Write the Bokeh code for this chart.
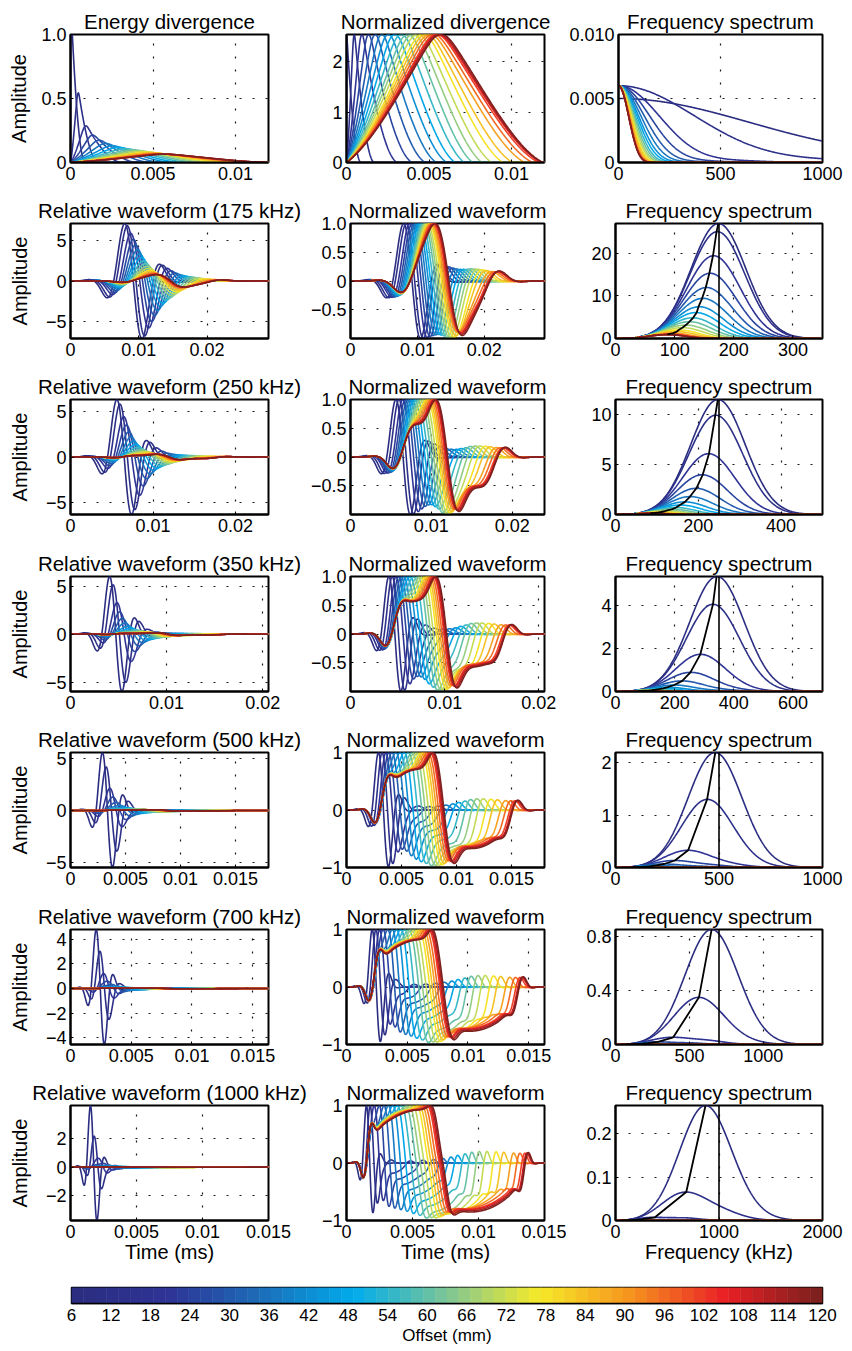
import numpy as np
from bokeh.plotting import figure
from bokeh.layouts import column, row
from bokeh.models import FixedTicker, Range1d, Span
from bokeh.embed import file_html
from bokeh.resources import INLINE

# ---------------------------------------------------------------- data
offsets_mm = [6, 12, 18, 24, 30, 36, 42, 48, 54, 60, 66, 72, 78, 84, 90, 96, 102, 108, 114, 120]

# energy divergence curves (row 1):
# time of the peak (ms) and temporal spread (std, ms) of every offset's curve
div_peak_time = [0.00002, 0.00045, 0.0009, 0.0013, 0.0017, 0.0021, 0.0025, 0.0029, 0.0033, 0.0037,
                 0.0040, 0.0043, 0.0046, 0.0048, 0.0050, 0.0052, 0.0054, 0.0055, 0.0056, 0.0057]
div_spread_std = [0.00017, 0.0003, 0.00056, 0.00073, 0.00088, 0.00101, 0.00113, 0.00123, 0.00134, 0.00144,
                  0.00155, 0.00166, 0.00179, 0.0019, 0.00204, 0.00213, 0.0022, 0.00223, 0.00224, 0.00225]
div_tail_convexity = [1.0, 0.8, 0.7, 0.6, 0.5, 0.4, 0.3, 0.2, 0.12, 0.06,
                      0.0, 0.0, 0.0, 0.0, 0.0, 0.0, 0.0, 0.0, 0.0, 0.0]
div_peak_rounding = 0.0005
div_peak_120mm = 0.065
div_spectrum_dc = [0.005, 0.006, 0.006, 0.006, 0.006, 0.006, 0.006, 0.006, 0.006, 0.006,
                   0.006, 0.006, 0.006, 0.006, 0.006, 0.006, 0.006, 0.006, 0.006, 0.006]
norm_div_peak = 2.54

# source wavelets (rows 2-7)
source_khz = [175, 250, 350, 500, 700, 1000]
wavelet_delay_cycles = 1.57
wavelet_width_cycles = 0.6
rel_wave_peak = [7.05, 6.3, 6.0, 5.6, 4.8, 4.35]
spec_peak = [27.0, 11.5, 5.35, 2.2, 0.85, 0.265]
wave_t_max = [0.029, 0.024, 0.0206, 0.018, 0.0163, 0.015]
spec_f_max = [350, 500, 700, 1000, 1400, 2000]

# axis ticks / labels
row1_x_ticks = [[0, 0.005, 0.01], [0, 0.005, 0.01], [0, 500, 1000]]
row1_x_labels = [["0", "0.005", "0.01"], ["0", "0.005", "0.01"], ["0", "500", "1000"]]
row1_y_ticks = [[0, 0.5, 1.0], [0, 1, 2], [0, 0.005, 0.010]]
row1_y_labels = [["0", "0.5", "1.0"], ["0", "1", "2"], ["0", "0.005", "0.010"]]
row1_titles = ["Energy divergence", "Normalized divergence", "Frequency spectrum"]

time_ticks = [[0, 0.01, 0.02], [0, 0.01, 0.02], [0, 0.01, 0.02],
              [0, 0.005, 0.01, 0.015], [0, 0.005, 0.01, 0.015], [0, 0.005, 0.01, 0.015]]
time_labels = [["0", "0.01", "0.02"], ["0", "0.01", "0.02"], ["0", "0.01", "0.02"],
               ["0", "0.005", "0.01", "0.015"], ["0", "0.005", "0.01", "0.015"], ["0", "0.005", "0.01", "0.015"]]
rel_y_ticks = [[-5, 0, 5], [-5, 0, 5], [-5, 0, 5], [-5, 0, 5], [-4, -2, 0, 2, 4], [-2, 0, 2]]
rel_y_labels = [["\u22125", "0", "5"], ["\u22125", "0", "5"], ["\u22125", "0", "5"], ["\u22125", "0", "5"],
                ["\u22124", "\u22122", "0", "2", "4"], ["\u22122", "0", "2"]]
norm_y_ticks = [[-0.5, 0, 0.5, 1.0]] * 3 + [[-1, 0, 1]] * 3
norm_y_labels = [["\u22120.5", "0", "0.5", "1.0"]] * 3 + [["\u22121", "0", "1"]] * 3
spec_x_ticks = [[0, 100, 200, 300], [0, 200, 400], [0, 200, 400, 600], [0, 500, 1000], [0, 500, 1000], [0, 1000, 2000]]
spec_y_ticks = [[0, 10, 20], [0, 5, 10], [0, 2, 4], [0, 1, 2], [0, 0.4, 0.8], [0, 0.1, 0.2]]
spec_y_labels = [["0", "10", "20"], ["0", "5", "10"], ["0", "2", "4"], ["0", "1", "2"], ["0", "0.4", "0.8"], ["0", "0.1", "0.2"]]

colorbar_ticks = offsets_mm
colorbar_range = [6, 120]

# ---------------------------------------------------------------- style / layout
FONT = "Liberation Sans"
TICK_PX = 18
TITLE_PX = 20.5
LABEL_PX = 20
COL_W = [307, 259, 286]
COL_BL = [70, 39, 49]
COL_BR = [39, 22, 30]
ROW_H = [190, 177, 176, 177, 176, 177, 199]
ROW_BT = [34, 33, 32, 33, 32, 33, 32]
ROW_BB = [28, 29, 29, 29, 29, 29, 52]
CB_H = 1351 - sum(ROW_H)


def jet(u):
    anchors = [(0.0, (43, 45, 128)), (0.125, (46, 52, 150)), (0.25, (28, 110, 185)),
               (0.375, (0, 172, 236)), (0.5, (125, 198, 150)), (0.625, (246, 234, 40)),
               (0.75, (246, 146, 30)), (0.875, (234, 32, 38)), (1.0, (125, 32, 30))]
    for (u0, c0), (u1, c1) in zip(anchors[:-1], anchors[1:]):
        if u <= u1:
            w = (u - u0) / (u1 - u0)
            return "#%02x%02x%02x" % tuple(int(round(a + (b - a) * w)) for a, b in zip(c0, c1))
    return "#%02x%02x%02x" % anchors[-1][1]


PALETTE = [jet(k / 63) for k in range(64)]
lo, hi = colorbar_range
COLORS = [PALETTE[int(round((o - lo) / (hi - lo) * 63))] for o in offsets_mm]

CW = {".": .278, "\u2212": .584}


def text_w(s, px):
    return sum(CW.get(c, .556) for c in s) * px


def style_axis(ax, ticks, labels, tick_px=TICK_PX):
    ax.ticker = FixedTicker(ticks=ticks, minor_ticks=[])
    ax.major_label_overrides = {t: s for t, s in zip(ticks, labels)}
    ax.major_label_text_font = FONT
    ax.major_label_text_font_size = "%dpx" % tick_px
    ax.major_label_text_color = "black"
    ax.major_label_standoff = 4
    ax.axis_line_color = "black"
    ax.axis_line_width = 2
    ax.major_tick_in = 3
    ax.major_tick_out = 0
    ax.major_tick_line_color = "black"
    ax.minor_tick_line_color = None
    ax.axis_label_text_font = FONT
    ax.axis_label_text_font_size = "%dpx" % LABEL_PX
    ax.axis_label_text_font_style = "normal"
    ax.axis_label_text_color = "black"


def make_fig(ci, ri, xr, yr, title, xt, xl, yt, yl, xlabel=None, ylabel=None):
    p = figure(width=COL_W[ci], height=ROW_H[ri], x_range=Range1d(*xr), y_range=Range1d(*yr),
               output_backend="svg", toolbar_location=None, title=title,
               min_border_left=COL_BL[ci], min_border_right=COL_BR[ci],
               min_border_top=ROW_BT[ri], min_border_bottom=ROW_BB[ri])
    p.title.text_font = FONT
    p.title.text_font_size = "%spx" % TITLE_PX
    p.title.text_font_style = "normal"
    p.title.align = "center"
    p.title.standoff = 3
    p.title.text_color = "black"
    style_axis(p.xaxis[0], xt, xl)
    style_axis(p.yaxis[0], yt, yl)
    if xlabel:
        p.xaxis[0].axis_label = xlabel
        p.xaxis[0].axis_label_standoff = 0
    if ylabel:
        p.yaxis[0].axis_label = ylabel
        lw = max(text_w(s, TICK_PX) for s in yl)
        p.yaxis[0].axis_label_standoff = int(max(0, round(33 - lw)))
    p.grid.grid_line_color = "black"
    p.grid.grid_line_dash = "2 11"
    p.grid.grid_line_width = 1.2
    p.grid.grid_line_alpha = 0.9
    p.outline_line_color = "black"
    p.outline_line_width = 2
    p.outline_line_alpha = 1
    p.background_fill_color = "white"
    p.border_fill_color = "white"
    return p


# ---------------------------------------------------------------- model curves
dt = 1e-5
t = np.arange(0, 0.04, dt)
NFFT = 2 ** 15
freqs = np.fft.rfftfreq(NFFT, dt)


def div_shape(tp, T, conv):
    d = np.zeros_like(t)
    r = t <= tp
    u = t[r] / tp
    d[r] = (0.45 * u + 0.8 * u ** 2 - 0.3667 * u ** 3) / 0.8833
    f = (t > tp) & (t < T)
    s = (t[f] - tp) / (T - tp)
    soft = 1 - (0.85 * s + 0.3 * s ** 2 - 0.2267 * s ** 3 - 0.12 * s ** 4) / 0.8033
    d[f] = conv * (1 - s) ** 2 + (1 - conv) * soft
    return d


def spread(d):
    m = (t * d).sum() / d.sum()
    return np.sqrt((((t - m) ** 2) * d).sum() / d.sum())


def fit_shape(tp, sd, conv):
    a, b = tp + 2e-5, 0.035
    for _ in range(40):
        mid = 0.5 * (a + b)
        if spread(div_shape(tp, mid, conv)) < sd:
            a = mid
        else:
            b = mid
    d = div_shape(tp, 0.5 * (a + b), conv)
    # round the cusp at the peak
    rs = min(div_peak_rounding, 0.12 * tp)
    if rs > 2 * dt:
        n = int(4 * rs / dt)
        kk = np.exp(-0.5 * (np.arange(-n, n + 1) * dt / rs) ** 2)
        ds = np.convolve(d, kk / kk.sum(), mode="same")
        w = np.exp(-((t - tp) / (2.5 * rs)) ** 2)
        d = w * ds + (1 - w) * d
    return d / d.max()


shapes = [fit_shape(tp, sd, c) for tp, sd, c in zip(div_peak_time, div_spread_std, div_tail_convexity)]
unit = [s / (s.sum() * dt) for s in shapes]
div_area = div_peak_120mm / unit[-1].max()

rows = []

# row 1
m1 = t <= 0.012 + 1e-9
st1 = 2
fig_e = make_fig(0, 0, (0, 0.012), (0, 1.0), row1_titles[0], row1_x_ticks[0], row1_x_labels[0],
                 row1_y_ticks[0], row1_y_labels[0], ylabel="Amplitude")
fig_e.multi_line(xs=[t[m1][::st1] for _ in unit],
                 ys=[(div_area * u)[m1][::st1] for u in unit],
                 line_color=COLORS, line_width=1.6)
fig_n = make_fig(1, 0, (0, 0.012), (0, norm_div_peak), row1_titles[1], row1_x_ticks[1], row1_x_labels[1],
                 row1_y_ticks[1], row1_y_labels[1])
fig_n.multi_line(xs=[t[m1][::st1] for _ in shapes],
                 ys=[(norm_div_peak * s)[m1][::st1] for s in shapes],
                 line_color=COLORS, line_width=1.6)
fig_s = make_fig(2, 0, (0, 1000), (0, 0.010), row1_titles[2], row1_x_ticks[2], row1_x_labels[2],
                 row1_y_ticks[2], row1_y_labels[2])
fm = freqs <= 1000
specs1 = [np.abs(np.fft.rfft(u, NFFT) * dt) ** 2 * dc for u, dc in zip(unit, div_spectrum_dc)]
fig_s.multi_line(xs=[freqs[fm] for _ in specs1], ys=[s[fm] for s in specs1],
                 line_color=COLORS, line_width=1.6)
rows.append(row(fig_e, fig_n, fig_s))

# rows 2-7
for k, F in enumerate(source_khz):
    ri = k + 1
    tc = wavelet_delay_cycles / F
    sig = wavelet_width_cycles / F
    wav = -np.sin(2 * np.pi * F * (t - tc)) * np.exp(-((t - tc) / sig) ** 2)
    waves = [np.convolve(wav, u)[:len(t)] * dt for u in unit]
    scale = rel_wave_peak[k] / max(w.max() for w in waves)
    waves = [w * scale for w in waves]
    tm = t <= wave_t_max[k] + 1e-9
    stride = max(1, int(wave_t_max[k] / dt / 500))
    tt = t[tm][::stride]
    ymin = min(w[tm].min() for w in waves)
    last = ri == 6
    p1 = make_fig(0, ri, (0, wave_t_max[k]), (ymin, rel_wave_peak[k]),
                  "Relative waveform (%d kHz)" % F, time_ticks[k], time_labels[k],
                  rel_y_ticks[k], rel_y_labels[k], xlabel="Time (ms)" if last else None, ylabel="Amplitude")
    p1.multi_line(xs=[tt for _ in waves], ys=[w[tm][::stride] for w in waves], line_color=COLORS, line_width=1.6)

    p2 = make_fig(1, ri, (0, wave_t_max[k]), (-1, 1), "Normalized waveform", time_ticks[k], time_labels[k],
                  norm_y_ticks[k], norm_y_labels[k], xlabel="Time (ms)" if last else None)
    p2.multi_line(xs=[tt for _ in waves], ys=[(w / w.max())[tm][::stride] for w in waves],
                  line_color=COLORS, line_width=1.6)

    specs = [np.abs(np.fft.rfft(w, NFFT)) ** 2 for w in waves]
    sscale = spec_peak[k] / max(s.max() for s in specs)
    specs = [s * sscale for s in specs]
    fmk = freqs <= spec_f_max[k]
    pk_f = [freqs[int(np.argmax(s))] for s in specs]
    pk_a = [s.max() for s in specs]
    p3 = make_fig(2, ri, (0, spec_f_max[k]), (0, spec_peak[k]), "Frequency spectrum",
                  spec_x_ticks[k], [str(v) for v in spec_x_ticks[k]], spec_y_ticks[k], spec_y_labels[k],
                  xlabel="Frequency (kHz)" if last else None)
    p3.multi_line(xs=[freqs[fmk] for _ in specs], ys=[s[fmk] for s in specs], line_color=COLORS, line_width=1.6)
    p3.line(pk_f, pk_a, line_color="black", line_width=1.8)
    p3.add_layout(Span(location=F, dimension="height", line_color="black", line_width=1.6))
    rows.append(row(p1, p2, p3))

# colour bar
cb = figure(width=852, height=CB_H, x_range=Range1d(lo, hi), y_range=Range1d(0, 1),
            output_backend="svg", toolbar_location=None,
            min_border_left=71, min_border_right=30, min_border_top=15, min_border_bottom=CB_H - 15 - 16)
edges = np.linspace(lo, hi, len(PALETTE) + 1)
cb.quad(left=edges[:-1], right=edges[1:], bottom=0, top=1, fill_color=PALETTE, line_color=PALETTE, line_width=0.5)
cb.yaxis.visible = False
cb.grid.visible = False
cb.outline_line_color = "black"
cb.outline_line_width = 1.5
ax = cb.xaxis[0]
style_axis(ax, colorbar_ticks, [str(v) for v in colorbar_ticks], tick_px=17)
ax.major_tick_line_color = None
ax.axis_line_width = 1.5
ax.major_label_standoff = 5
ax.axis_label = "Offset (mm)"
ax.axis_label_text_font_size = "17px"
ax.axis_label_standoff = 2
rows.append(cb)

layout = column(*rows)
open("out.html", "w").write(file_html(layout, INLINE))
